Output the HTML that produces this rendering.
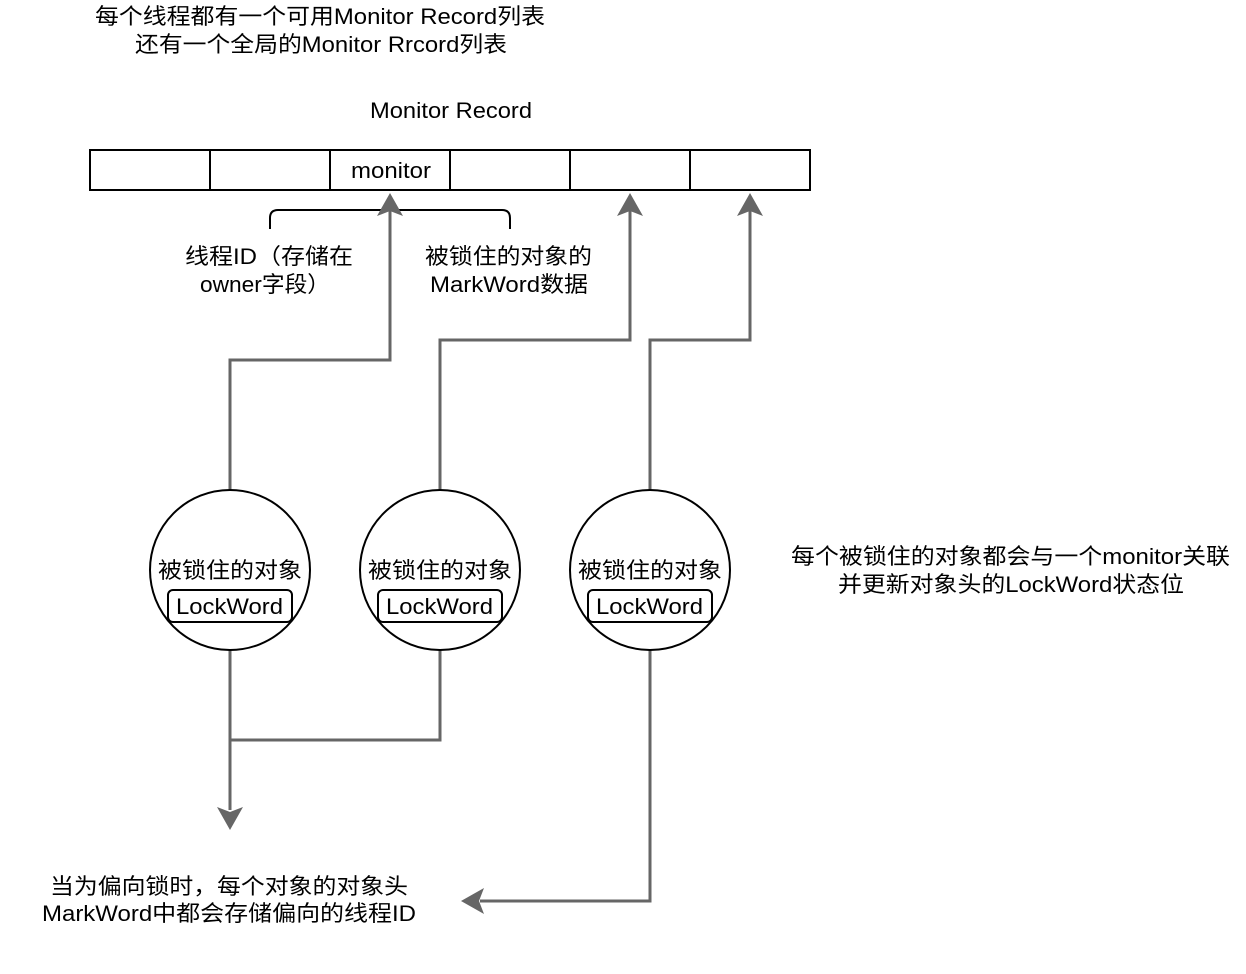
<!DOCTYPE html>
<html><head><meta charset="utf-8"><style>
html,body{margin:0;padding:0;background:#fff;}
svg{display:block;}
text{font-family:"Liberation Sans","Noto Sans CJK SC",sans-serif;font-size:22px;fill:#000;}
</style></head><body>
<svg width="1246" height="974" viewBox="0 0 1246 974" xmlns="http://www.w3.org/2000/svg">
<text x="95" y="24" textLength="450" lengthAdjust="spacingAndGlyphs">每个线程都有一个可用Monitor Record列表</text>
<text x="135" y="52" textLength="372" lengthAdjust="spacingAndGlyphs">还有一个全局的Monitor Rrcord列表</text>
<text x="370" y="118" textLength="162" lengthAdjust="spacingAndGlyphs">Monitor Record</text>
<g fill="#fff" stroke="#000" stroke-width="2">
<rect x="90" y="150" width="120" height="40"/>
<rect x="210" y="150" width="120" height="40"/>
<rect x="330" y="150" width="120" height="40"/>
<rect x="450" y="150" width="120" height="40"/>
<rect x="570" y="150" width="120" height="40"/>
<rect x="690" y="150" width="120" height="40"/>
</g>
<text x="351" y="178" textLength="80" lengthAdjust="spacingAndGlyphs">monitor</text>
<path d="M270 229 V218 Q270 210 278 210 H502 Q510 210 510 218 V229" fill="none" stroke="#000" stroke-width="2"/>
<text x="185" y="264" textLength="168" lengthAdjust="spacingAndGlyphs">线程ID（存储在</text>
<text x="200" y="292" textLength="130" lengthAdjust="spacingAndGlyphs">owner字段）</text>
<text x="425" y="264" textLength="167" lengthAdjust="spacingAndGlyphs">被锁住的对象的</text>
<text x="430" y="292" textLength="158" lengthAdjust="spacingAndGlyphs">MarkWord数据</text>
<g fill="none" stroke="#666" stroke-width="3">
<path d="M230 490 V360 H390 V210"/>
<path d="M440 490 V340 H630 V210"/>
<path d="M650 490 V340 H750 V210"/>
<path d="M230 650 V810"/>
<path d="M440 650 V740 H230"/>
<path d="M650 650 V901 H480"/>
</g>
<g fill="#666">
<polygon points="390,193 377,216 390,211 403,216"/>
<polygon points="630,193 617,216 630,211 643,216"/>
<polygon points="750,193 737,216 750,211 763,216"/>
<polygon points="230,830 217,807 230,812 243,807"/>
<polygon points="461,901 484,888 479,901 484,914"/>
</g>
<g fill="#fff" stroke="#000" stroke-width="2">
<circle cx="230" cy="570" r="80"/>
<circle cx="440" cy="570" r="80"/>
<circle cx="650" cy="570" r="80"/>
<rect x="168" y="590" width="124" height="32" rx="5"/>
<rect x="378" y="590" width="124" height="32" rx="5"/>
<rect x="588" y="590" width="124" height="32" rx="5"/>
</g>
<text x="158" y="578" textLength="144" lengthAdjust="spacingAndGlyphs">被锁住的对象</text>
<text x="368" y="578" textLength="144" lengthAdjust="spacingAndGlyphs">被锁住的对象</text>
<text x="578" y="578" textLength="144" lengthAdjust="spacingAndGlyphs">被锁住的对象</text>
<text x="176" y="614" textLength="107" lengthAdjust="spacingAndGlyphs">LockWord</text>
<text x="386" y="614" textLength="107" lengthAdjust="spacingAndGlyphs">LockWord</text>
<text x="596" y="614" textLength="107" lengthAdjust="spacingAndGlyphs">LockWord</text>
<text x="791" y="564" textLength="439" lengthAdjust="spacingAndGlyphs">每个被锁住的对象都会与一个monitor关联</text>
<text x="838" y="592" textLength="346" lengthAdjust="spacingAndGlyphs">并更新对象头的LockWord状态位</text>
<text x="50" y="894" textLength="358" lengthAdjust="spacingAndGlyphs">当为偏向锁时，每个对象的对象头</text>
<text x="42" y="921" textLength="374" lengthAdjust="spacingAndGlyphs">MarkWord中都会存储偏向的线程ID</text>
</svg>
</body></html>
